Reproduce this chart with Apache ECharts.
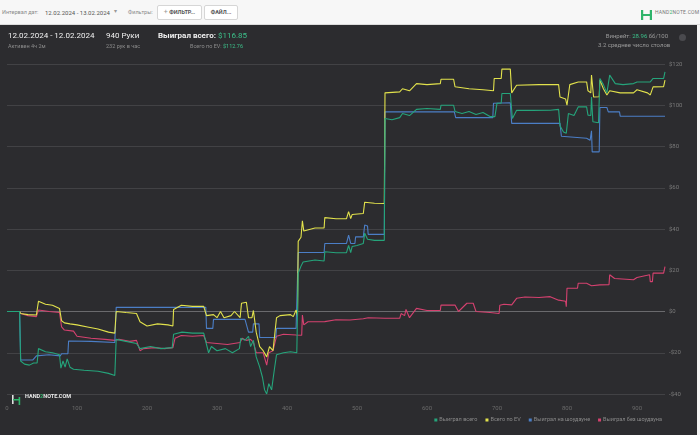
<!DOCTYPE html>
<html>
<head>
<meta charset="utf-8">
<script src="https://cdn.jsdelivr.net/npm/echarts@6/dist/echarts.min.js"></script>
<style>
  html, body { margin:0; padding:0; width:700px; height:435px; overflow:hidden; background:#f4f4f4; font-family: Roboto, "Noto Sans", sans-serif; }
  #top { position:absolute; left:0; top:0; width:700px; height:24px; background:#f7f7f7; border-bottom:1px solid #dcdcdc; }
  .t { position:absolute; white-space:nowrap; }
  .btn { position:absolute; top:5px; height:13px; border:1px solid #d6d6d6; background:#fff; border-radius:2px; font-size:5.5px; font-weight:bold; color:#555; line-height:13px; text-align:center; }
  #panel { position:absolute; left:0; top:25px; width:697px; height:410px; background:#2c2c2f; }
  #chart { position:absolute; left:0; top:0; width:697px; height:410px; }
  .h { position:absolute; white-space:nowrap; }
</style>
</head>
<body>
<div id="top">
  <div class="t" style="left:2px;top:9px;font-size:5.5px;color:#8a8a8a;">Интервал дат:</div>
  <div class="t" style="left:45px;top:8.5px;font-size:6px;color:#555;">12.02.2024 - 13.02.2024</div>
  <div class="t" style="left:114px;top:8px;font-size:5.5px;color:#999;">▾</div>
  <div class="t" style="left:128px;top:9px;font-size:5.5px;color:#8a8a8a;">Фильтры:</div>
  <div class="btn" style="left:157px;width:43px;"><span style="color:#999;font-weight:normal;font-size:7px;">+</span> ФИЛЬТР...</div>
  <div class="btn" style="left:204px;width:32px;">ФАЙЛ...</div>
  <div class="t" style="left:641px;top:6px;">
    <svg width="11" height="12" viewBox="0 0 11 12"><rect x="0" y="1" width="2.2" height="10" fill="#2fb46b"/><rect x="8.8" y="1" width="2.2" height="10" fill="#2fb46b"/><rect x="2" y="5" width="7" height="2" fill="#2fb46b"/></svg>
  </div>
  <div class="t" style="left:655px;top:9px;font-size:5px;color:#777;letter-spacing:0.2px;">HAND<span style="color:#2fb46b;">2</span>NOTE.COM</div>
</div>
<div id="panel">
  <div id="chart"></div>
  <div class="h" style="left:8px;top:6px;font-size:8px;color:#f0f0f0;">12.02.2024 - 12.02.2024</div>
  <div class="h" style="left:8px;top:17.5px;font-size:5.5px;color:#8c8c8c;">Активен 4ч 2м</div>
  <div class="h" style="left:106px;top:6px;font-size:8px;color:#f0f0f0;">940 Руки</div>
  <div class="h" style="left:106px;top:17.5px;font-size:5.5px;color:#8c8c8c;">232 рук в час</div>
  <div class="h" style="left:158px;top:6px;font-size:8px;color:#f0f0f0;font-weight:bold;">Выиграл всего: <span style="color:#3cc08a;font-weight:normal;">$116.85</span></div>
  <div class="h" style="right:454px;top:17.5px;font-size:5.5px;color:#8c8c8c;">Всего по EV: <span style="color:#3cc08a;">$112.76</span></div>
  <div class="h" style="right:29px;top:7px;font-size:6px;color:#9a9a9a;">Винрейт: <span style="color:#3cc08a;">28.96</span> бб/100</div>
  <div class="h" style="left:598px;top:16px;font-size:6px;color:#9a9a9a;">3.2 среднее число столов</div>
  <div class="h" style="left:679px;top:9px;width:7px;height:7px;border-radius:50%;background:#4a4a4e;"></div>
  <div class="h" style="left:12px;top:365px;">
    <svg width="9" height="11" viewBox="0 0 9 11"><rect x="0" y="1" width="1.6" height="9" fill="#e0e0e0"/><rect x="6.6" y="3" width="1.6" height="8" fill="#2fb46b"/><rect x="1" y="5" width="6" height="1.5" fill="#2fb46b"/></svg>
  </div>
  <div class="h" style="left:25px;top:368px;font-size:5.5px;color:#e8e8e8;font-weight:bold;">HAND<span style="color:#2fb46b;">2</span>NOTE.COM</div>
</div>
<script>
var legendNames = ['Выиграл всего', 'Всего по EV', 'Выиграл на шоудауне', 'Выиграл без шоудауна'];
var xTicks = [0, 100, 200, 300, 400, 500, 600, 700, 800, 900];
var yTicks = [-40, -20, 0, 20, 40, 60, 80, 100, 120];

var wonTotal = [[0,0],[18,0],[19.5,-24],[25,-25.5],[32,-26],[38,-25],[43,-25],[45,-18],[55,-19.5],[65,-20],[75,-21],[77,-27.5],[80,-24],[83,-27],[86,-23],[90,-27],[95,-28],[110,-28.5],[130,-29],[145,-30],[154,-31],[156,-13.5],[170,-14.5],[185,-15.5],[190,-18],[205,-17],[220,-18],[236,-17.5],[238,-11],[250,-10],[265,-10.5],[281,-10.5],[285,-16],[288,-20],[292,-17],[300,-19],[312,-18],[322,-20],[332,-18],[334,-13],[340,-14],[345,-12],[348,-17],[352,-14],[356,-22],[361,-27],[365,-32],[368,-38],[371,-40],[374,-35],[378,-38],[382,-28],[385,-21],[395,-20],[405,-19.5],[414,-20],[416,18.5],[420,22],[423,24],[440,25],[453,24.5],[454,29],[470,28.5],[485,28.5],[488,32],[491,28.5],[493,31.5],[500,32],[509,33],[511,38],[515,35],[525,34.5],[539,34.5],[540,93.6],[550,93],[561,94],[565,96],[575,95],[585,98],[600,98.4],[619,98],[620,100],[638,100],[640,97],[650,96],[660,97],[670,95.5],[680,96.5],[690,94.5],[697,94.5],[700,101],[706,101],[707,105.7],[719,105.7],[722,93.6],[728,97.6],[750,97.5],[776,97.6],[788,98],[790,90],[795,87],[799,86.4],[802,96],[810,95],[816,99.2],[828,99.2],[830,95.2],[834,95],[835,104],[837,92],[845,91.5],[847,113],[852,110],[857,106],[861,114.6],[869,110.5],[880,110],[895,110.5],[900,111.3],[919,111.3],[923,113],[938,113],[940,116.2]];

var totalEV = [[0,0],[18,0],[19.5,-1],[30,-1.5],[42,-1.7],[45,5],[55,3.5],[65,3],[75,1.5],[78,-4.5],[82,-5.5],[90,-6],[100,-6.5],[115,-7.5],[130,-8.5],[145,-10],[154,-10.5],[156,0],[170,-0.5],[185,-1],[190,-5],[200,-7],[215,-6],[230,-6.5],[237,-7],[238,1],[249,3],[265,2.5],[281,2.5],[285,-2],[295,-1.5],[300,-3],[305,0],[310,-3],[320,-2],[325,0],[333,-3],[335,4],[342,4.5],[345,-3],[350,-3],[352,0.5],[356,-10],[361,-17],[366,-19],[371,-22],[375,-17],[380,-19],[385,-3],[390,-2],[405,-1.5],[409,-2.5],[413,0.7],[415,-2],[416,34],[420,36],[422,44],[424,39],[440,40.5],[453,40.5],[454,45.5],[470,45],[485,45],[488,48.4],[491,45],[493,47],[509,47.5],[511,53],[525,52.5],[539,52.4],[540,106],[561,106.5],[565,108],[575,107],[585,110.5],[600,110],[619,110.5],[620,112.6],[638,112.6],[640,109],[660,108],[680,107.5],[695,107],[696,113],[706,113],[707,117.5],[719,117.5],[721,106],[728,109.7],[760,110],[788,110],[790,104],[798,103],[800,100],[804,110],[816,111.3],[828,111.3],[830,107],[834,106],[835,114.6],[838,104],[846,104.1],[847,112.2],[852,108],[857,105],[861,107],[876,106],[895,106],[900,107.5],[915,106],[919,105],[923,108.9],[938,109],[940,112.2]];

var wonShowdown = [[0,0],[18,0],[19.5,-23.5],[37,-23.5],[42,-21.5],[60,-21],[76,-21.5],[78,-20.5],[87,-20.5],[88,-14.3],[120,-14.5],[154,-15],[156,2],[284,2],[285,-8.2],[294,-8.2],[295,-3.8],[340,-3.8],[345,-10],[351,-10],[352,-6],[360,-6],[361,-12.6],[384,-12.6],[385,-8.2],[413,-8.2],[415,-7.4],[416,28.6],[453,28.6],[454,33],[485,33],[488,37],[491,33],[497,33],[498,36.2],[509,36.2],[511,41.9],[515,41.5],[516,37.4],[539,37.4],[540,96.8],[639,96.8],[641,94],[694,94],[695,101],[697,101.2],[719,101.2],[721,91.2],[790,91.2],[792,85],[828,84],[833,83],[835,87.6],[836,77.4],[846,77.4],[847,98.9],[857,98.9],[859,96.8],[875,96.8],[876,94.7],[940,94.7]];

var wonNoShowdown = [[0,0],[18,0],[19.5,-1],[30,-2],[42,-2.5],[45,0.7],[60,0],[75,-0.5],[78,-7.5],[82,-9],[95,-9.5],[100,-12],[120,-13],[140,-13.5],[154,-14],[160,-13.5],[175,-14.5],[185,-14],[190,-19],[195,-18],[210,-17.5],[225,-18],[237,-17.5],[240,-13],[249,-11.6],[265,-12],[281,-11.6],[285,-15],[300,-15.5],[315,-16],[333,-15],[336,-13],[342,-14],[348,-13.5],[352,-15],[356,-20],[366,-20],[371,-26],[374,-20],[380,-19],[385,-12],[395,-11],[413,-11.4],[421,-11.5],[422,-1.7],[424,-6.5],[430,-5],[454,-4.9],[470,-4],[490,-4.1],[509,-3.5],[516,-3],[540,-3.3],[561,-3.3],[563,-1],[568,-2],[570,1],[575,-3],[585,1.5],[600,0.5],[619,0.5],[620,3.1],[640,3.1],[645,0],[657,4],[666,4],[670,0],[690,-0.5],[703,-1],[704,3],[710,3.5],[721,3.2],[728,6.4],[740,7],[760,6.8],[776,7.2],[788,5.5],[798,5],[799,2.3],[800,11.3],[815,11.3],[816,13.7],[828,13.7],[835,12.5],[847,12.9],[860,13],[861,17.8],[868,16],[870,15.4],[895,15.4],[900,16.5],[918,17.8],[919,14.5],[922,14.5],[923,18.6],[938,18.6],[940,21.8]];

var colors = ['#25a47b', '#e2e24c', '#4b7ec6', '#d4416f'];
var seriesData = [wonTotal, totalEV, wonShowdown, wonNoShowdown];

var chart = echarts.init(document.getElementById('chart'), null, {renderer:'canvas'});
var series = seriesData.map(function (d, i) {
  var s = {
    name: legendNames[i], type: 'line', data: d, showSymbol: false, symbol: 'none',
    lineStyle: { width: 1.1, color: colors[i] }, itemStyle: { color: colors[i] },
    z: [5, 4, 3, 2][i], animation: false
  };
  if (i === 0) {
    s.markLine = { silent: true, symbol: 'none', label: { show: false },
      lineStyle: { color: '#6a6a6d', type: 'solid', width: 1 },
      data: [{ yAxis: 0 }], z: 1 };
  }
  return s;
});
chart.setOption({
  backgroundColor: 'transparent',
  animation: false,
  textStyle: { fontFamily: 'Roboto' },
  grid: { left: 7, right: 32, top: 39, bottom: 41 },
  legend: {
    data: legendNames, right: 30, bottom: 7, itemWidth: 3, itemHeight: 3, icon: 'rect', itemGap: 8,
    textStyle: { color: '#8a8a8a', fontSize: 5.5, padding: [0, 0, 0, -3] }
  },
  xAxis: {
    type: 'value', min: 0, max: 940, interval: 100,
    axisLine: { show: false }, axisTick: { show: false }, splitLine: { show: false },
    axisLabel: { color: '#6a6a6a', fontSize: 6, margin: 11,
      formatter: function (v) { return xTicks.indexOf(v) >= 0 ? String(v) : ''; } }
  },
  yAxis: {
    type: 'value', position: 'right', min: -40, max: 120, interval: 20,
    axisLine: { show: false }, axisTick: { show: false },
    splitLine: { lineStyle: { color: '#424245', width: 1 } },
    axisLabel: { color: '#7a7a7a', fontSize: 6, margin: 4,
      formatter: function (v) { return yTicks.indexOf(v) < 0 ? '' : (v < 0 ? '-$' + Math.abs(v) : '$' + v); } }
  },
  series: series
});
</script>
</body>
</html>
